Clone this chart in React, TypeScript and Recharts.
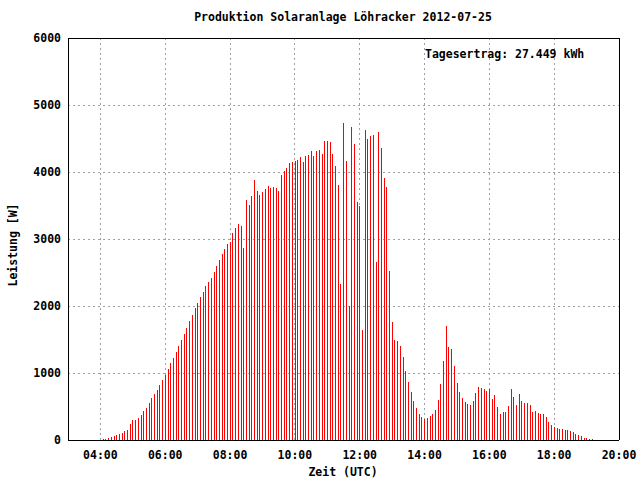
import React from 'react';
import { ComposedChart, Bar, XAxis, YAxis, CartesianGrid } from 'recharts';

// sampling of the logger
const START_TIME = '04:05';
const STEP_MINUTES = 5;

// power [W], 5-minute samples
const power0405to0700 = [
  15, 15, 35, 50, 65, 75, 90, 105, 135, 150, 240, 300, 300, 330, 375, 435, 480, 555,
  630, 690, 750, 825, 900, 975, 1065, 1155, 1230, 1320, 1410, 1500, 1575, 1665, 1770, 1860, 1965, 2040,
];
const power0705to1005 = [
  2130, 2205, 2295, 2355, 2415, 2505, 2595, 2685, 2775, 2850, 2925, 2955, 3090, 3165, 3225, 3195, 2865, 3585,
  3510, 3645, 3885, 3720, 3660, 3705, 3750, 3795, 3765, 3780, 3765, 3720, 3960, 4020, 4065, 4140, 4155, 4170, 4185,
];
const power1010to1310 = [
  4230, 4155, 4245, 4260, 4320, 4245, 4320, 4335, 4275, 4470, 4470, 4455, 4275, 4095, 3810, 2325, 4725, 4170,
  1995, 4665, 4425, 3555, 3495, 1635, 4620, 4500, 4530, 4545, 2655, 4590, 4365, 3915, 3780, 2520, 1755, 1500, 1485,
];
const power1315to1615 = [
  1410, 1245, 1035, 870, 720, 585, 480, 390, 345, 315, 330, 360, 390, 450, 600, 840, 1185, 1695,
  1395, 1365, 1110, 855, 720, 630, 570, 540, 525, 585, 705, 795, 780, 765, 735, 765, 615, 675, 495,
];
const power1620to1910 = [
  390, 420, 420, 510, 765, 645, 525, 690, 585, 555, 555, 525, 420, 435, 405, 390, 390, 345,
  270, 225, 195, 180, 165, 165, 150, 150, 135, 120, 90, 75, 60, 30, 30, 15, 15,
];

const xMajorTicks = ['04:00', '06:00', '08:00', '10:00', '12:00', '14:00', '16:00', '18:00', '20:00'];
const xMinorTicks = ['03:00', '05:00', '07:00', '09:00', '11:00', '13:00', '15:00', '17:00', '19:00'];
const xRange = ['03:00', '20:00'];
const yTicks = [0, 1000, 2000, 3000, 4000, 5000, 6000];

const TITLE = 'Produktion Solaranlage Löhracker 2012-07-25';
const DAY_YIELD = 'Tagesertrag: 27.449 kWh';
const X_LABEL = 'Zeit (UTC)';
const Y_LABEL = 'Leistung [W]';

const toHours = (s: string) => {
  const [h, m] = s.split(':').map(Number);
  return h + m / 60;
};
const fmt = (h: number) => {
  const hh = Math.floor(h + 1e-6);
  const mm = Math.round((h - hh) * 60);
  return `${String(hh).padStart(2, '0')}:${String(mm).padStart(2, '0')}`;
};

const power = [
  ...power0405to0700,
  ...power0705to1005,
  ...power1010to1310,
  ...power1315to1615,
  ...power1620to1910,
];
const t0 = toHours(START_TIME);
const data = power.map((w, i) => ({ t: t0 + (i * STEP_MINUTES) / 60, w }));

const majorX = xMajorTicks.map(toHours);
const minorX = xMinorTicks.map(toHours);
const domainX: [number, number] = [toHours(xRange[0]), toHours(xRange[1])];
const domainY: [number, number] = [yTicks[0], yTicks[yTicks.length - 1]];

const FONT = "'DejaVu Sans Mono', 'Liberation Mono', monospace";
const FS = 11.5;
const tickStyle = { fill: '#000', fontSize: FS, fontFamily: FONT, fontWeight: 'bold' as const };
const textStyle: React.CSSProperties = {
  position: 'absolute',
  fontFamily: FONT,
  fontSize: FS,
  fontWeight: 'bold',
  color: '#000',
  whiteSpace: 'nowrap',
  lineHeight: 1,
};

export default function App() {
  return (
    <div
      style={{
        position: 'absolute',
        left: 0,
        top: 0,
        width: 640,
        height: 480,
        background: '#fff',
        shapeRendering: 'crispEdges',
      }}
    >
      <ComposedChart
        width={640}
        height={480}
        data={data}
        margin={{ top: 38, right: 21, bottom: 0, left: 0 }}
        barGap={0}
        barCategoryGap={0}
      >
        <CartesianGrid stroke="#a0a0a0" strokeDasharray="2 3" />
        <XAxis
          dataKey="t"
          type="number"
          domain={domainX}
          allowDataOverflow
          ticks={majorX}
          interval={0}
          tickFormatter={fmt}
          height={40}
          tickSize={0}
          tickMargin={11}
          tickLine={false}
          axisLine={{ stroke: '#000' }}
          tick={tickStyle}
        />
        <YAxis
          type="number"
          domain={domainY}
          allowDataOverflow
          ticks={yTicks}
          interval={0}
          width={68}
          tickSize={0}
          tickMargin={7}
          tickLine={false}
          axisLine={{ stroke: '#000' }}
          tick={tickStyle}
        />
        {/* inward tick marks and frame (gnuplot style) */}
        <XAxis xAxisId="bMaj" type="number" dataKey="t" domain={domainX} allowDataOverflow ticks={majorX} interval={0}
          orientation="bottom" mirror tick={false} tickSize={4} axisLine={false} tickLine={{ stroke: '#000' }} />
        <XAxis xAxisId="bMin" type="number" dataKey="t" domain={domainX} allowDataOverflow ticks={minorX} interval={0}
          orientation="bottom" mirror tick={false} tickSize={2} axisLine={false} tickLine={{ stroke: '#000' }} />
        <XAxis xAxisId="tMaj" type="number" dataKey="t" domain={domainX} allowDataOverflow ticks={majorX} interval={0}
          orientation="top" mirror tick={false} tickSize={4} axisLine={{ stroke: '#000' }} tickLine={{ stroke: '#000' }} />
        <XAxis xAxisId="tMin" type="number" dataKey="t" domain={domainX} allowDataOverflow ticks={minorX} interval={0}
          orientation="top" mirror tick={false} tickSize={2} axisLine={false} tickLine={{ stroke: '#000' }} />
        <YAxis yAxisId="lMaj" type="number" domain={domainY} allowDataOverflow ticks={yTicks} interval={0}
          orientation="left" mirror tick={false} tickSize={4} axisLine={false} tickLine={{ stroke: '#000' }} />
        <YAxis yAxisId="rMaj" type="number" domain={domainY} allowDataOverflow ticks={yTicks} interval={0}
          orientation="right" mirror tick={false} tickSize={4} axisLine={{ stroke: '#000' }} tickLine={{ stroke: '#000' }} />
        <Bar dataKey="w" fill="#ff0000" barSize={1} isAnimationActive={false} />
      </ComposedChart>
      <div style={{ ...textStyle, left: 343, top: 18, transform: 'translate(-50%, -50%)' }}>{TITLE}</div>
      <div style={{ ...textStyle, left: 425, top: 55, transform: 'translate(0, -50%)' }}>{DAY_YIELD}</div>
      <div style={{ ...textStyle, left: 343, top: 473, transform: 'translate(-50%, -50%)' }}>{X_LABEL}</div>
      <div style={{ ...textStyle, left: 14, top: 245, transform: 'translate(-50%, -50%) rotate(-90deg)' }}>{Y_LABEL}</div>
    </div>
  );
}
